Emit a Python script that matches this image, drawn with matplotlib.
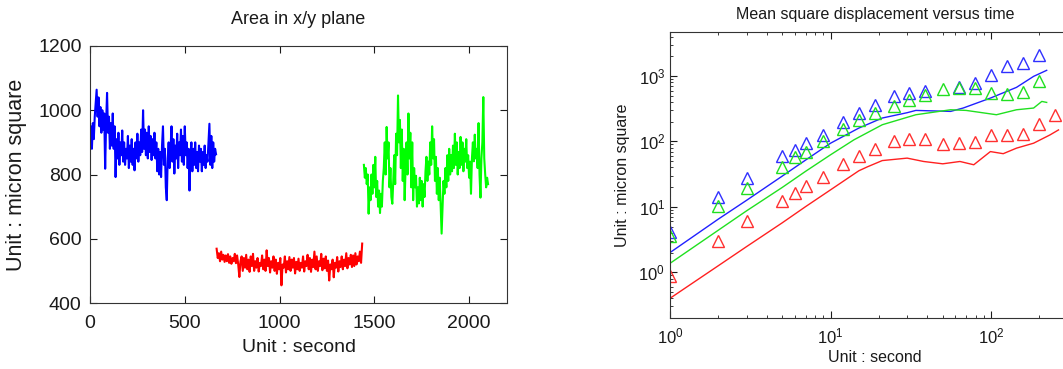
import numpy as np
import matplotlib
matplotlib.use("Agg")
import matplotlib.pyplot as plt
from matplotlib.ticker import LogLocator, NullFormatter

plt.rcParams['font.family'] = ['Liberation Sans', 'DejaVu Sans']

# ---------------- Left panel data: area in x/y plane ----------------
blue_t0, blue_dt = 0, 5
blue_area = [900, 950, 880, 960, 910, 980, 1020, 1064, 980, 1040, 950, 1010, 930, 1000, 940, 990,
             818, 960, 1054, 930, 980, 880, 960, 890, 990, 880, 950, 792, 910, 850, 930, 830, 900,
             860, 937, 840, 900, 830, 880, 850, 920, 820, 890, 840, 910, 830, 880, 813, 900, 850,
             927, 840, 900, 860, 940, 870, 1000, 880, 940, 860, 930, 850, 950, 870, 920, 845, 910,
             860, 930, 850, 900, 810, 880, 800, 870, 792, 890, 950, 830, 880, 760, 720, 850, 900,
             820, 880, 950, 840, 910, 803, 890, 850, 927, 820, 900, 860, 940, 840, 920, 830, 950,
             860, 900, 820, 880, 750, 860, 900, 810, 880, 830, 900, 820, 870, 810, 890, 840, 880,
             810, 870, 830, 890, 820, 860, 840, 900, 958, 830, 920, 820, 900, 840, 880, 863]

red_t0, red_dt = 668, 6
red_area = [569, 540, 555, 530, 560, 535, 550, 528, 548, 530, 552, 525, 545, 522, 540, 530, 553, 524, 548, 520,
            481, 530, 545, 500, 540, 510, 550, 505, 535, 497, 545, 515, 553, 500, 530, 510, 540, 498, 525, 515,
            548, 505, 535, 500, 564, 515, 540, 495, 530, 510, 545, 500, 535, 491, 525, 505, 540, 455, 520, 510,
            545, 495, 530, 505, 543, 500, 535, 510, 540, 492, 528, 505, 538, 500, 525, 510, 545, 498, 530, 515,
            550, 505, 540, 497, 535, 512, 560, 505, 545, 500, 530, 515, 553, 502, 538, 508, 545, 500, 532, 470,
            520, 505, 535, 480, 525, 510, 543, 498, 530, 512, 545, 505, 535, 515, 555, 508, 540, 520, 550, 512,
            548, 515, 555, 520, 545, 530, 560, 525, 585]

green_t0, green_dt = 1445, 5
green_area = [830, 790, 820, 770, 800, 678, 760, 720, 800, 740, 830, 760, 855, 730, 780, 700, 750, 680, 740, 700,
              780, 820, 900, 800, 948, 850, 900, 760, 820, 730, 709, 780, 860, 770, 927, 860, 1046, 900, 970, 820,
              940, 780, 880, 720, 820, 900, 800, 990, 850, 930, 760, 900, 720, 820, 760, 796, 700, 760, 710, 790,
              720, 780, 700, 770, 730, 810, 855, 780, 840, 800, 900, 830, 950, 850, 910, 780, 855, 740, 820, 720,
              790, 700, 616, 700, 780, 740, 820, 760, 860, 780, 880, 800, 860, 810, 890, 820, 927, 830, 900, 800,
              870, 820, 917, 830, 900, 810, 880, 840, 910, 820, 860, 790, 840, 740, 850, 900, 841, 924, 850, 880,
              820, 960, 800, 728, 850, 900, 1041, 850, 800, 760, 790, 770]

# ---------------- Right panel data: mean square displacement ----------------
blue_mt = [1, 2, 3, 5, 6, 7, 9, 12, 15, 19, 25, 31, 39, 63, 79, 100, 126, 158, 200]
blue_mv = [4.2, 14, 28, 59, 75, 94, 126, 195, 272, 362, 487, 550, 600, 680, 780, 1050, 1410, 1590, 2130]
green_mt = [1, 2, 3, 5, 6, 7, 9, 12, 15, 19, 25, 31, 39, 50, 63, 79, 100, 126, 158, 200]
green_mv = [3.6, 10.4, 19.3, 41, 57, 70, 100, 156, 210, 272, 352, 423, 517, 630, 655, 655, 550, 540, 560, 830]
red_mt = [1, 2, 3, 5, 6, 7, 9, 12, 15, 19, 25, 31, 39, 50, 63, 79, 100, 126, 158, 200, 251]
red_mv = [0.89, 3.05, 6.0, 12.5, 16.2, 21, 29, 45, 60, 76, 100, 109, 109, 92, 94, 98, 126, 126, 129, 186, 255]

blue_lt = [1, 2, 3, 5, 7, 10, 15, 21, 30, 34, 56, 67, 99, 144, 184, 222]
blue_lv = [2.0, 6.5, 12.6, 29.5, 52, 94, 160, 228, 275, 298, 288, 324, 460, 671, 988, 1222]
green_lt = [1, 2, 3, 5, 7, 10, 14, 21, 34, 56, 70, 108, 144, 184, 207, 222]
green_lv = [1.37, 4.4, 8.7, 19.8, 35, 62.5, 106, 180, 256, 305, 298, 256, 305, 324, 409, 395]
red_lt = [1, 2, 3, 5, 7, 10, 15, 17, 21, 30, 38, 50, 64, 78, 99, 119, 144, 184, 233, 263]
red_lv = [0.40, 1.26, 2.47, 5.7, 10.1, 18.2, 35.6, 41, 51, 55.6, 49.4, 45.5, 49.4, 44, 70, 65, 79, 94, 126, 150]

W, H = 1063, 369
fig = plt.figure(figsize=(W / 100, H / 100), dpi=100)
txt = '#1a1a1a'

# ---------------- Left axes ----------------
axL = fig.add_axes([90 / W, 1 - 303 / H, 417 / W, 257 / H])
for vals, t0, dt, col in [(blue_area, blue_t0, blue_dt, '#0000ff'),
                          (red_area, red_t0, red_dt, '#ff0000'),
                          (green_area, green_t0, green_dt, '#00ff00')]:
    t = t0 + dt * np.arange(len(vals))
    axL.plot(t, vals, color=col, lw=1.5)
axL.set_xlim(0, 2200)
axL.set_ylim(400, 1200)
axL.set_xticks([0, 500, 1000, 1500, 2000])
axL.set_yticks([400, 600, 800, 1000, 1200])
axL.tick_params(direction='in', top=True, right=True, length=5, labelsize=14,
                colors=txt)
axL.tick_params(axis='x', pad=9)
axL.tick_params(axis='y', pad=6)
axL.set_title('Area in x/y plane', fontsize=13, color=txt, pad=16)
axL.set_xlabel('Unit : second', fontsize=14, color=txt, labelpad=5)
axL.set_ylabel('Unit : micron square', fontsize=15.5, color=txt, labelpad=8)
for s in axL.spines.values():
    s.set_color('#333333')

# ---------------- Right axes ----------------
axR = fig.add_axes([670 / W, 1 - 318 / H, 410 / W, 286 / H])
axR.set_xscale('log')
axR.set_yscale('log')
axR.plot(blue_lt, blue_lv, color='#2020ff', lw=1)
axR.plot(green_lt, green_lv, color='#20e020', lw=1)
axR.plot(red_lt, red_lv, color='#ff2020', lw=1)
ms = 8
axR.plot(blue_mt, blue_mv, ls='none', marker='^', ms=ms, mfc='none', mec='#3030ff', mew=1)
axR.plot(green_mt, green_mv, ls='none', marker='^', ms=ms, mfc='none', mec='#20e020', mew=1)
axR.plot(red_mt, red_mv, ls='none', marker='^', ms=ms, mfc='none', mec='#ff3030', mew=1)
axR.set_xlim(1, 358)
axR.set_ylim(0.2, 4710)
axR.xaxis.set_major_locator(LogLocator(base=10, numticks=10))
axR.yaxis.set_major_locator(LogLocator(base=10, numticks=10))
axR.xaxis.set_minor_locator(LogLocator(base=10, subs=np.arange(2, 10), numticks=20))
axR.yaxis.set_minor_locator(LogLocator(base=10, subs=np.arange(2, 10), numticks=20))
axR.xaxis.set_minor_formatter(NullFormatter())
axR.yaxis.set_minor_formatter(NullFormatter())
axR.tick_params(which='major', direction='in', top=True, right=True, length=5,
                labelsize=12, colors=txt)
axR.tick_params(which='minor', direction='in', top=True, right=True, length=2.5,
                colors=txt)
axR.tick_params(axis='x', which='major', pad=6)
axR.set_title('Mean square displacement versus time', fontsize=11.5, color=txt, pad=9)
axR.set_xlabel('Unit : second', fontsize=11.5, color=txt, labelpad=3)
axR.set_ylabel('Unit : micron square', fontsize=11.5, color=txt, labelpad=6)
for s in axR.spines.values():
    s.set_color('#333333')

fig.savefig('out.png', dpi=100)
